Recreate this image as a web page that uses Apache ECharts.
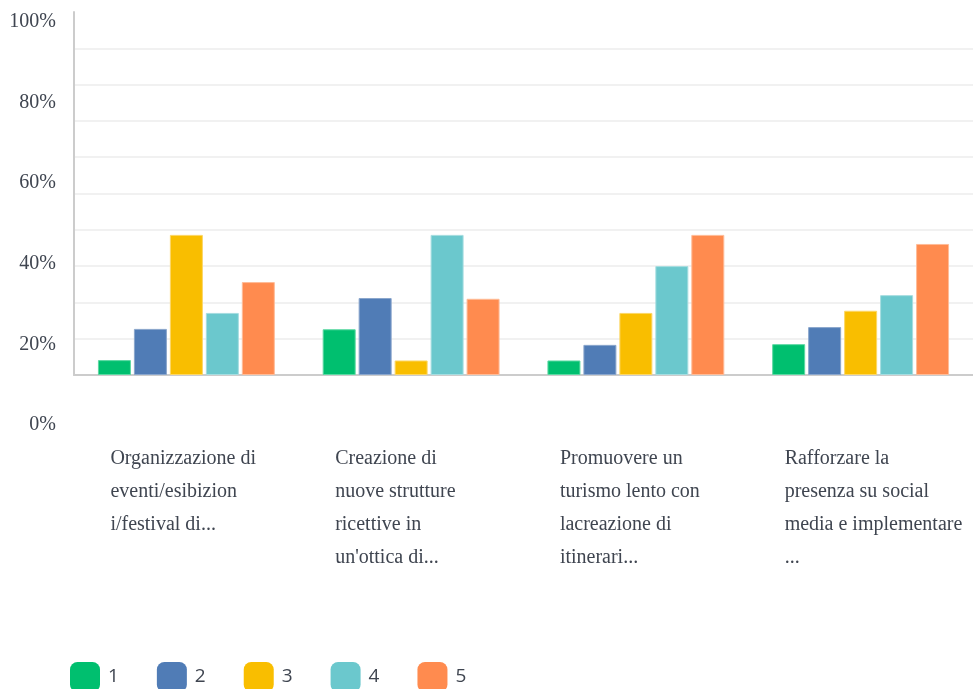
<!DOCTYPE html>
<html>
<head>
<meta charset="utf-8">
<script src="https://cdn.jsdelivr.net/npm/echarts@6/dist/echarts.min.js"></script>
<style>
  html, body { margin: 0; padding: 0; background: #fff; }
  #chart { width: 973px; height: 689px; }
</style>
</head>
<body>
<div id="chart"></div>
<script>
// categories, already wrapped and shortened as in the survey export
const categories = [
  'Organizzazione di\neventi/esibizion\ni/festival di...',
  'Creazione di\nnuove strutture\nricettive in\nun\'ottica di...',
  'Promuovere un\nturismo lento con\nlacreazione di\nitinerari...',
  'Rafforzare la\npresenza su social\nmedia e implementare\n...'
]
const seriesNames = ['1', '2', '3', '4', '5']
const colors = ['#00BF6F', '#507CB6', '#F9BE00', '#6BC8CD', '#FF8B4F']
const borders = ['#5cd9a3', '#8aa6cc', '#fcd766', '#a6dde0', '#ffbc98']

// percentage per rating, one array per rating
const rating1 = [4.1, 12.6, 4.0, 8.5]
const rating2 = [12.7, 21.2, 8.3, 13.2]
const rating3 = [38.6, 4.0, 17.1, 17.7]
const rating4 = [17.1, 38.6, 30.0, 22.0]
const rating5 = [25.6, 21.0, 38.6, 36.1]
const values = [rating1, rating2, rating3, rating4, rating5]

const yTickLabels = ['0%', '20%', '40%', '60%', '80%', '100%']

const textColor = '#3f4550'
const serif = '"Liberation Serif", "DejaVu Serif", serif'

const chart = echarts.init(document.getElementById('chart'))

chart.setOption({
  animation: false,
  grid: [
    { left: 74, right: 0, top: 12, bottom: 314 },
    // label-only grid, the export draws tick labels on their own spacing
    { left: 74, right: 0, top: 22, bottom: 264 }
  ],
  legend: {
    data: seriesNames,
    left: 70,
    top: 662,
    padding: 0,
    icon: 'roundRect',
    itemWidth: 30,
    itemHeight: 30,
    itemGap: 38,
    itemStyle: { borderWidth: 0 },
    textStyle: {
      color: textColor,
      fontFamily: '"Open Sans", sans-serif',
      fontSize: 19,
      padding: [4, 0, 0, 3]
    }
  },
  xAxis: [
    {
      type: 'category',
      gridIndex: 0,
      data: categories,
      axisTick: { show: false },
      axisLine: { lineStyle: { color: '#cccccc', width: 2 } },
      axisLabel: {
        margin: 67,
        interval: 0,
        formatter: (v) => v.split('\n').map((l) => '{a|' + l + '}').join('\n'),
        rich: {
          a: {
            width: 152,
            align: 'left',
            fontFamily: serif,
            fontSize: 20,
            lineHeight: 33,
            color: textColor
          }
        }
      }
    },
    {
      type: 'category',
      gridIndex: 1,
      data: categories,
      show: false
    }
  ],
  yAxis: [
    {
      type: 'value',
      gridIndex: 0,
      min: 0,
      max: 100,
      interval: 10,
      axisLine: { show: true, lineStyle: { color: '#cccccc', width: 2 } },
      axisTick: { show: false },
      axisLabel: { show: false },
      splitLine: {
        showMaxLine: false,
        lineStyle: { color: '#ececec', width: 1.5 }
      }
    },
    {
      type: 'value',
      gridIndex: 1,
      min: 0,
      max: 100,
      interval: 20,
      axisLine: { show: false },
      axisTick: { show: false },
      splitLine: { show: false },
      axisLabel: {
        margin: 18,
        formatter: (v) => yTickLabels[v / 20],
        fontFamily: serif,
        fontSize: 20,
        color: textColor
      }
    }
  ],
  series: seriesNames.map((name, i) => ({
    name: name,
    type: 'bar',
    xAxisIndex: 0,
    yAxisIndex: 0,
    data: values[i],
    barWidth: 33,
    barGap: '9%',
    itemStyle: {
      color: colors[i],
      borderColor: borders[i],
      borderWidth: 1
    }
  }))
})
</script>
</body>
</html>
